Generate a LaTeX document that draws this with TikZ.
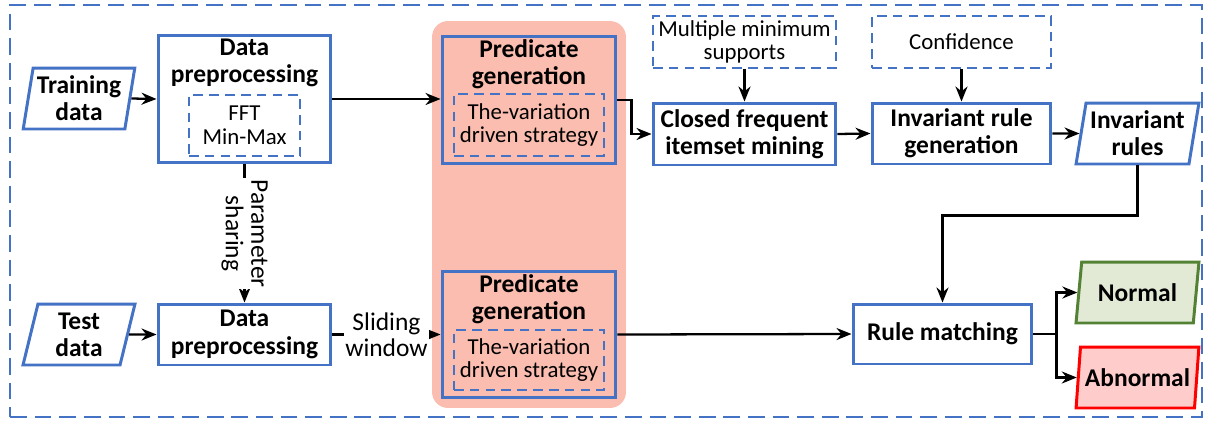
\documentclass[tikz,border=0pt]{standalone}
\usepackage{fontspec}
\setmainfont{Carlito}
\usetikzlibrary{arrows.meta,positioning,shapes.geometric,backgrounds}
\definecolor{boxblue} {HTML}{4472C4}
\definecolor{hilite}  {HTML}{FBBDAF}
\definecolor{okgreen} {HTML}{548235}
\definecolor{okfill}  {HTML}{E2EAD6}
\definecolor{badred}  {HTML}{FF0000}
\definecolor{badfill} {HTML}{FFCCCC}
\tikzset{
  stepbox/.style   ={draw=boxblue, fill=white, line width=1.7pt,
                     align=center, font=\fontsize{14.5}{15.5}\selectfont\bfseries, inner sep=2pt},
  titletext/.style ={align=center, font=\fontsize{14.5}{15.5}\selectfont\bfseries, inner sep=0pt},
  dashbox/.style   ={draw=boxblue, line width=0.9pt, dash pattern=on 5.5pt off 3.5pt,
                     align=center, font=\fontsize{13}{13.5}\selectfont, inner sep=2pt},
  databox/.style   ={trapezium, trapezium left angle=79, trapezium right angle=101,
                     trapezium stretches=true, draw=boxblue, line width=1.7pt,
                     align=center, font=\fontsize{14.5}{15.5}\selectfont\bfseries, inner sep=1pt},
  flowarr/.style   ={-{Stealth[length=3mm,width=2.4mm]}, line width=1.3pt},
  edgetext/.style  ={fill=white, align=center, font=\fontsize{14.5}{14.5}\selectfont, inner sep=1pt},
}

\begin{document}
\begin{tikzpicture}[x=0.02cm,y=-0.02cm]
    \useasboundingbox (0,0) rectangle (1205,420);
    % outer frame and highlighted predicate column
    \node[draw=boxblue, line width=1.1pt, dash pattern=on 9.5pt off 4.5pt,
          minimum width=23.84cm, minimum height=8.24cm, inner sep=0pt] (frame) at (606,211) {};
    \node[fill=hilite, rounded corners=0.32cm, minimum width=3.88cm, minimum height=7.74cm] (column) at (529,214.5) {};

    % training branch
    \node[databox, minimum width=2.24cm, minimum height=1.22cm] (train) at (79,98.5) {Training\\data};
    \node[stepbox, minimum width=3.46cm, minimum height=2.56cm] (prep1) at (244.5,99) {};
    \node[titletext, below=0.1cm of prep1.north] (prep1t) {Data\\preprocessing};
    \node[dashbox, minimum width=2.22cm, minimum height=1.22cm] (fft) at (244.5,125.5) {FFT\\Min-Max};
    \node[stepbox, minimum width=3.48cm, minimum height=2.56cm, fill=hilite] (pred1) at (529,100) {};
    \node[titletext, below=0.1cm of pred1.north] (pred1t) {Predicate\\generation};
    \node[dashbox, minimum width=3.0cm, minimum height=1.24cm] (var1) at (529,125) {The-variation\\driven strategy};
    \node[dashbox, minimum width=3.66cm, minimum height=1.04cm] (mms) at (744.5,42) {Multiple minimum\\supports};
    \node[stepbox, minimum width=3.66cm, minimum height=1.24cm] (cfim) at (744.5,134) {Closed frequent\\itemset mining};
    \node[dashbox, minimum width=3.58cm, minimum height=1.04cm] (conf) at (961.5,42) {Confidence};
    \node[stepbox, minimum width=3.58cm, minimum height=1.22cm] (irg) at (961.5,133.5) {Invariant rule\\generation};
    \node[databox, minimum width=2.46cm, minimum height=1.22cm] (rules) at (1137.5,133.5) {Invariant\\rules};

    % test branch
    \node[databox, minimum width=2.24cm, minimum height=1.22cm] (test) at (79,334.5) {Test\\data};
    \node[stepbox, minimum width=3.46cm, minimum height=1.22cm] (prep2) at (244.5,334.5) {Data\\preprocessing};
    \node[stepbox, minimum width=3.48cm, minimum height=2.54cm, fill=hilite] (pred2) at (529,334.5) {};
    \node[titletext, below=0.1cm of pred2.north] (pred2t) {Predicate\\generation};
    \node[dashbox, minimum width=3.0cm, minimum height=1.2cm] (var2) at (529,360) {The-variation\\driven strategy};
    \node[stepbox, minimum width=3.58cm, minimum height=1.2cm] (match) at (942.5,334) {Rule matching};
    \node[databox, minimum width=2.46cm, minimum height=1.22cm, draw=okgreen, fill=okfill] (normal) at (1137.5,292.5) {Normal};
    \node[databox, minimum width=2.46cm, minimum height=1.22cm, draw=badred, fill=badfill] (abnormal) at (1137.5,377.5) {Abnormal};

    % connectors
    \draw[flowarr] (train.east) -- (prep1.west);
    \draw[flowarr] (prep1.east) -- (prep1.east -| pred1.west);
    \draw[flowarr] (pred1.east) -- ++(14,0) |- (cfim.west);
    \draw[flowarr] (mms.south) -- (cfim.north);
    \draw[flowarr] (cfim.east) -- (irg.west);
    \draw[flowarr] (conf.south) -- (irg.north);
    \draw[flowarr] (irg.east) -- (rules.west);
    \draw[flowarr] (rules.south) -- ++(0,50) -| (match.north);
    \draw[flowarr] (prep1.south) -- node[edgetext, rotate=-90] (share) {Parameter\\sharing} (prep2.north);
    \draw[flowarr] (test.east) -- (prep2.west);
    \draw[flowarr] (prep2.east) -- node[edgetext] (slide) {Sliding\\window} (pred2.west);
    \draw[flowarr] (pred2.east) -- (match.west);
    \draw[flowarr] (match.east) -- ++(23,0) |- (normal.west);
    \draw[flowarr] (match.east) -- ++(23,0) |- (abnormal.west);
\end{tikzpicture}
\end{document}
